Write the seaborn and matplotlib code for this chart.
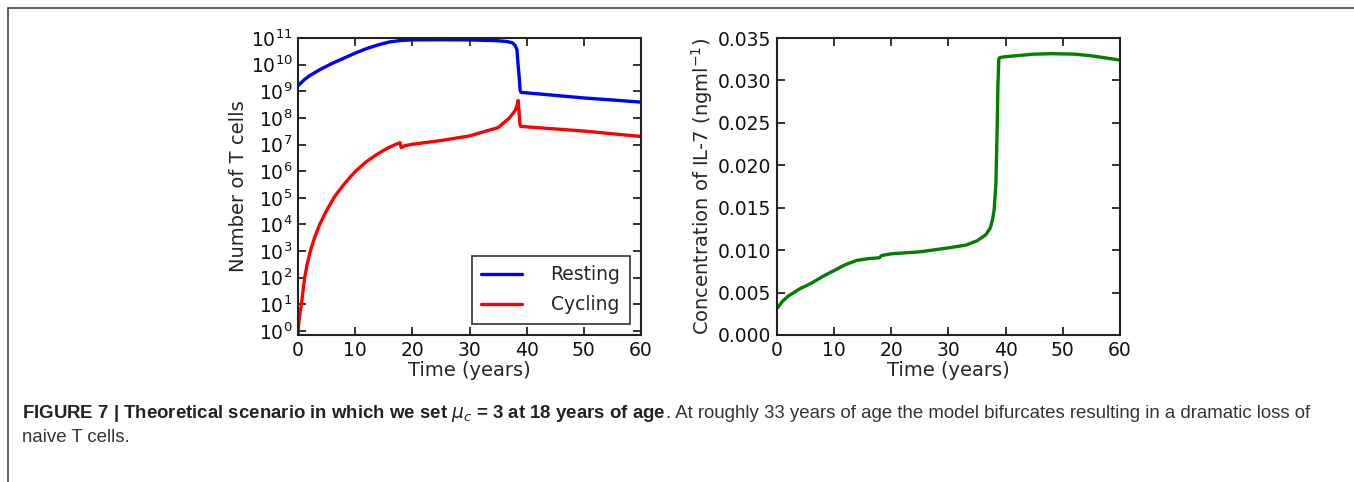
import numpy as np
import pandas as pd
import matplotlib
matplotlib.use("Agg")
import matplotlib.pyplot as plt
import matplotlib.ticker as mticker
from matplotlib.lines import Line2D
import seaborn as sns

# ---- data ----
t_rest = [0, 1, 2, 3, 4, 5, 6, 8, 10, 12, 14, 16, 18, 20, 25, 30, 35, 36.5, 37.5, 38.0, 38.3, 38.5, 38.7, 38.85, 39.0,
          40, 45, 50, 55, 60]
resting = [1.6e9, 2.6e9, 3.8e9, 5.1e9, 6.8e9, 8.7e9, 1.12e10, 1.74e10, 2.7e10, 4.0e10, 5.5e10, 7.1e10, 8.1e10, 8.5e10,
           8.6e10, 8.5e10, 7.9e10, 7.4e10, 6.6e10, 5.2e10, 3.6e10, 1.0e10, 3.2e9, 1.1e9, 9.1e8,
           8.7e8, 7.0e8, 5.6e8, 4.7e8, 3.9e8]

t_cyc = [0, 0.15, 0.3, 0.6, 0.9, 1.17, 1.6, 2.16, 2.9, 3.8, 5.0, 6.4, 7.3, 8.3, 9.2, 10.2, 12, 13.7, 15.5, 16.8,
         17.85, 18.05, 18.6, 20, 25, 30, 35, 37, 38, 38.3, 38.5, 38.65, 38.8, 38.95, 40, 50, 60]
cycling = [0.71, 2.0, 4.0, 10.0, 35.0, 1.0e2, 3.16e2, 1.0e3, 3.16e3, 1.0e4, 3.3e4, 1.1e5, 2.0e5, 3.7e5, 6.2e5,
           1.05e6, 2.3e6, 4.1e6, 7.0e6, 9.5e6, 1.17e7, 7.6e6, 8.9e6, 1.02e7, 1.41e7, 2.1e7, 4.3e7, 1.0e8, 1.9e8,
           2.8e8, 4.5e8, 2.0e8, 6.3e7, 4.8e7, 4.6e7, 3.2e7, 2.0e7]

t_il7 = [0, 1, 2, 4, 6, 8, 10, 12, 14, 16, 17.9, 18.3, 20, 25, 30, 33, 35, 36.5, 37.3, 37.7, 38.0, 38.3, 38.5, 38.65,
         38.8, 39, 40, 45, 48, 52, 55, 60]
il7 = [0.00313, 0.0040, 0.0046, 0.00545, 0.0061, 0.0069, 0.0076, 0.0083, 0.0088, 0.0090, 0.0091, 0.00937, 0.00957,
       0.0098, 0.01027, 0.01059, 0.0111, 0.0118, 0.0126, 0.0136, 0.0148, 0.0180, 0.0240, 0.0295, 0.0325, 0.0327,
       0.0328, 0.0331, 0.03315, 0.0331, 0.0329, 0.0324]

x_ticks = [0, 10, 20, 30, 40, 50, 60]
caption_bold = "FIGURE 7 | Theoretical scenario in which we set $\\mu_c$ = 3 at 18 years of age"
caption_rest = ". At roughly 33 years of age the model bifurcates resulting in a dramatic loss of"
caption_line2 = "naive T cells."

df_rest = pd.DataFrame({"t": t_rest, "v": resting})
df_cyc = pd.DataFrame({"t": t_cyc, "v": cycling})
df_il7 = pd.DataFrame({"t": t_il7, "v": il7})

sns.set_style("ticks")
plt.rcParams["font.family"] = ["DejaVu Sans"]
plt.rcParams["mathtext.fontset"] = "dejavusans"

W, H = 1354, 482
fig = plt.figure(figsize=(W / 100, H / 100), dpi=100)
fig.patch.set_facecolor("white")

def style_axes(ax):
    for s in ax.spines.values():
        s.set_visible(True)
        s.set_linewidth(1.5)
        s.set_color("#222222")
    ax.tick_params(which="major", direction="in", length=6, width=1.2, top=True, right=True,
                   labelsize=13.5, pad=4, colors="#111111")
    ax.tick_params(which="minor", length=0)
    ax.set_xlim(0, 60)
    ax.set_xticks(x_ticks)
    ax.set_xticklabels([str(v) for v in x_ticks])
    ax.set_xlabel("Time (years)", fontsize=14, labelpad=1)
    ax.set_facecolor("white")
    ax.grid(False)

# left axes
ax1 = fig.add_axes([298 / W, 1 - 335 / H, 343 / W, 297 / H])
sns.lineplot(data=df_rest, x="t", y="v", ax=ax1, color="#0000ff", linewidth=2.4, label="Resting")
sns.lineplot(data=df_cyc, x="t", y="v", ax=ax1, color="#ff0000", linewidth=2.4, label="Cycling")
ax1.set_yscale("log")
ax1.set_ylim(0.7, 1e11)
ax1.yaxis.set_major_locator(mticker.LogLocator(base=10, numticks=20))
ax1.yaxis.set_minor_locator(mticker.NullLocator())
ax1.yaxis.set_major_formatter(mticker.LogFormatterMathtext())
style_axes(ax1)
ax1.set_ylabel("Number of T cells", fontsize=14, labelpad=2)
leg = ax1.legend(loc="lower right", fontsize=13.5, frameon=True, fancybox=False, handlelength=2.2,
                 borderpad=0.5, labelspacing=0.6, handletextpad=1.5, borderaxespad=0.6)
leg.get_frame().set_edgecolor("black")
leg.get_frame().set_linewidth(1.2)

# right axes
ax2 = fig.add_axes([777 / W, 1 - 335 / H, 343 / W, 297 / H])
sns.lineplot(data=df_il7, x="t", y="v", ax=ax2, color="#007f00", linewidth=2.4)
ax2.set_ylim(0, 0.035)
ax2.yaxis.set_major_locator(mticker.MultipleLocator(0.005))
ax2.yaxis.set_major_formatter(mticker.FormatStrFormatter("%.3f"))
style_axes(ax2)
ax2.set_ylabel("Concentration of IL-7 (ngml$^{-1}$)", fontsize=14, labelpad=2)

# figure border (top and left)
fig.add_artist(Line2D([8 / W, 1.0], [1 - 8 / H, 1 - 8 / H], color="#444444", linewidth=1.2, transform=fig.transFigure))
fig.add_artist(Line2D([8 / W, 8 / W], [1 - 8 / H, 0.0], color="#444444", linewidth=1.2, transform=fig.transFigure))

# caption
cap_font = ["Liberation Sans", "DejaVu Sans"]
cap_size = 13.45
y1 = 1 - 414 / H
y2 = 1 - 437 / H
t1 = fig.text(22 / W, y1, caption_bold, fontsize=cap_size, fontweight="bold", family=cap_font, va="center",
              color="#222222")
fig.canvas.draw()
bb = t1.get_window_extent(renderer=fig.canvas.get_renderer())
fig.text(bb.x1 / W, y1, caption_rest, fontsize=cap_size, family=cap_font, va="center", color="#333333")
fig.text(22 / W, y2, caption_line2, fontsize=cap_size, family=cap_font, va="center", color="#333333")

fig.savefig("out.png", dpi=100, facecolor="white")
